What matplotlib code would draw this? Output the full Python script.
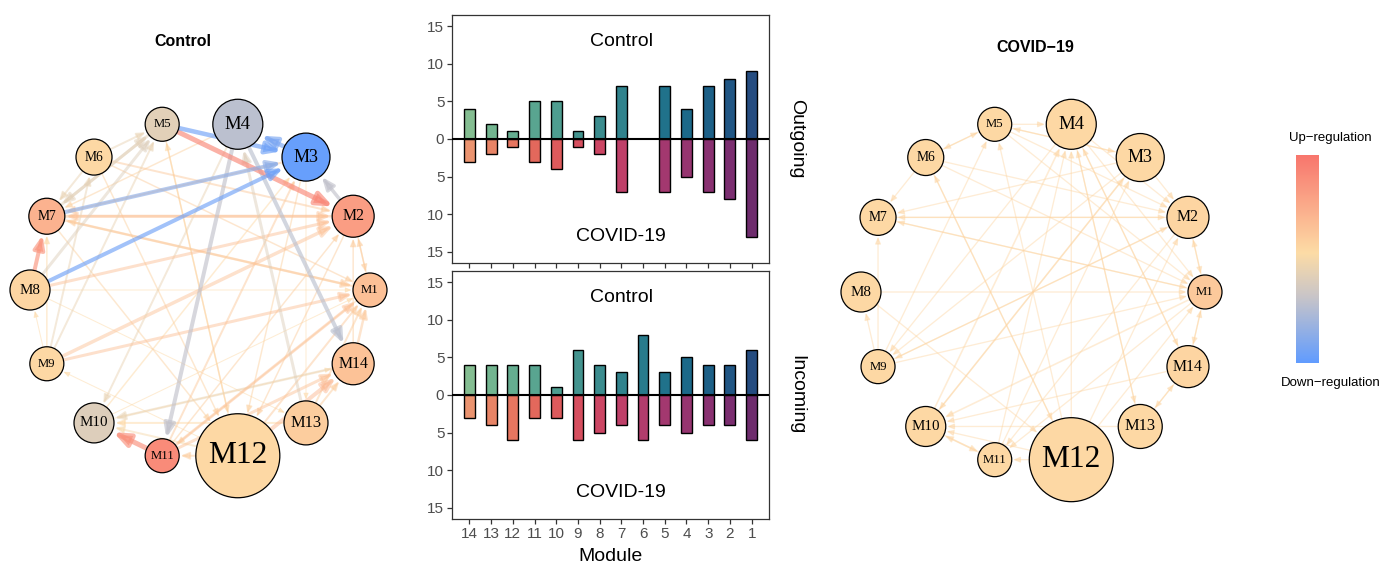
import numpy as np
import matplotlib
matplotlib.use("Agg")
import matplotlib.pyplot as plt
from matplotlib.patches import Circle, FancyArrowPatch, ArrowStyle
from matplotlib.colors import LinearSegmentedColormap

plt.rcParams['font.family'] = ['Liberation Sans', 'DejaVu Sans']

# ---------------- data ----------------
modules = [14, 13, 12, 11, 10, 9, 8, 7, 6, 5, 4, 3, 2, 1]
out_control = [4, 2, 1, 5, 5, 1, 3, 7, 0, 7, 4, 7, 8, 9]
out_covid = [3, 2, 1, 3, 4, 1, 2, 7, 0, 7, 5, 7, 8, 13]
in_control = [4, 4, 4, 4, 1, 6, 4, 3, 8, 3, 5, 4, 4, 6]
in_covid = [3, 4, 6, 3, 3, 6, 5, 4, 6, 4, 5, 4, 4, 6]
ytick_vals = [-15, -10, -5, 0, 5, 10, 15]

node_names = ['M1', 'M2', 'M3', 'M4', 'M5', 'M6', 'M7', 'M8', 'M9', 'M10',
              'M11', 'M12', 'M13', 'M14']
node_size = [17, 21, 24, 25, 17, 18, 18, 20, 17, 20, 17, 42, 22, 21]
# regulation score: 0 = down (blue), ~0.53 = neutral, 1 = up (red)
control_score = [0.66, 0.82, 0.02, 0.28, 0.42, 0.55, 0.72, 0.56, 0.55, 0.40,
                 0.90, 0.55, 0.60, 0.65]
covid_score = [0.62, 0.56, 0.55, 0.55, 0.55, 0.55, 0.55, 0.55, 0.55, 0.55,
               0.55, 0.55, 0.55, 0.56]

# (source, target, width, score)
control_edges = [
    (7, 5, 3, 0.42), (5, 7, 3, 0.42), (8, 5, 3, 0.40), (6, 5, 2, 0.45),
    (9, 5, 2, 0.45), (4, 10, 2, 0.45), (14, 10, 2.5, 0.45), (12, 10, 2, 0.50),
    (6, 7, 2, 0.45), (9, 6, 2, 0.45),
    (7, 2, 3, 0.65), (7, 1, 2.5, 0.62), (8, 2, 3, 0.66), (9, 2, 3.5, 0.65),
    (9, 1, 3, 0.66), (6, 2, 2, 0.62), (6, 1, 1.5, 0.60), (11, 1, 3, 0.66),
    (11, 14, 3, 0.65), (12, 1, 2, 0.62), (13, 1, 2, 0.60), (13, 14, 2, 0.60),
    (14, 1, 2.5, 0.62), (2, 1, 1.5, 0.60), (11, 2, 1.5, 0.60), (11, 3, 2, 0.62),
    (10, 3, 1.5, 0.55), (12, 5, 1.5, 0.55), (12, 9, 1, 0.55), (9, 8, 1, 0.55),
    (9, 7, 1.5, 0.55), (7, 12, 1.5, 0.58), (6, 12, 1.5, 0.58), (8, 13, 1, 0.55),
    (3, 7, 2, 0.62), (2, 7, 2.5, 0.64), (1, 7, 2, 0.60), (4, 7, 1.5, 0.58),
    (3, 12, 1.5, 0.58), (10, 1, 1, 0.55), (10, 14, 1, 0.55), (13, 10, 2, 0.55),
    (12, 11, 2, 0.60), (14, 2, 1.5, 0.60), (5, 12, 1.5, 0.58), (1, 11, 1.5, 0.58),
    (1, 2, 1.5, 0.60), (8, 1, 1, 0.55), (2, 12, 1.5, 0.60), (3, 13, 1, 0.55),
    (13, 4, 3, 0.40), (12, 14, 4, 0.70),
    (2, 3, 3.5, 0.30), (4, 11, 4, 0.30), (4, 14, 4, 0.28),
    (7, 3, 4, 0.14), (8, 3, 4, 0.05), (5, 3, 4.5, 0.05), (3, 4, 4.5, 0.08),
    (8, 7, 4, 0.85), (11, 10, 5, 0.88), (5, 2, 5, 0.92),
]

covid_edges = [
    (5, 3, 1.3, 0.56), (3, 5, 1.3, 0.56), (6, 5, 1.3, 0.56), (6, 7, 1.3, 0.56),
    (6, 2, 1.3, 0.56), (6, 1, 1.3, 0.56), (7, 2, 1.3, 0.56), (2, 7, 1.3, 0.56),
    (1, 7, 1.3, 0.56), (8, 1, 1.3, 0.56), (9, 8, 1.3, 0.56), (9, 7, 1.3, 0.56),
    (9, 5, 1.3, 0.56), (9, 2, 1.3, 0.56), (9, 1, 1.3, 0.56), (10, 4, 1.6, 0.56),
    (10, 3, 1.6, 0.56), (1, 10, 1.6, 0.56), (10, 11, 1.6, 0.56), (11, 10, 1.6, 0.56),
    (11, 4, 1.3, 0.56), (11, 3, 1.3, 0.56), (12, 5, 1.3, 0.56), (12, 4, 1.3, 0.56),
    (12, 6, 1.3, 0.56), (12, 1, 1.3, 0.56), (12, 2, 1.3, 0.56), (12, 11, 1.3, 0.56),
    (13, 4, 1.3, 0.56), (4, 13, 1.3, 0.56), (14, 4, 1.3, 0.56), (4, 14, 1.3, 0.56),
    (14, 13, 1.3, 0.56), (13, 14, 1.3, 0.56), (14, 1, 1.3, 0.56), (1, 14, 1.3, 0.56),
    (2, 1, 1.3, 0.56), (1, 2, 1.3, 0.56), (3, 2, 1.3, 0.56), (4, 1, 1.3, 0.56),
    (4, 2, 1.3, 0.56), (5, 1, 1.3, 0.56), (5, 2, 1.3, 0.56), (7, 1, 1.3, 0.56),
    (12, 10, 1.3, 0.56), (13, 10, 1.3, 0.56), (14, 10, 1.3, 0.56), (3, 9, 1.3, 0.56),
    (4, 9, 1.3, 0.56), (5, 6, 1.3, 0.56), (3, 7, 1.3, 0.56), (1, 11, 1.3, 0.56),
    (2, 11, 1.3, 0.56), (6, 12, 1.3, 0.56), (8, 12, 1.3, 0.56), (3, 10, 1.3, 0.56),
    (2, 9, 1.3, 0.56), (5, 4, 1.3, 0.56),
]

reg_cmap = LinearSegmentedColormap.from_list(
    'reg', [(0.0, '#619CFF'), (0.32, '#C9C5C8'), (0.53, '#FDDCA6'), (1.0, '#F8766D')])

try:
    import seaborn as sns
    crest = sns.color_palette("crest", as_cmap=True)
    flare = sns.color_palette("flare", as_cmap=True)
    pos_colors = [crest(t) for t in np.linspace(0.12, 0.85, len(modules))]
    neg_colors = [flare(t) for t in np.linspace(0.12, 0.85, len(modules))]
except Exception:
    c1 = LinearSegmentedColormap.from_list('p', ['#82c093', '#2f8089', '#26457e'])
    c2 = LinearSegmentedColormap.from_list('n', ['#ee8c6a', '#d44c62', '#672867'])
    pos_colors = [c1(t) for t in np.linspace(0, 1, len(modules))]
    neg_colors = [c2(t) for t in np.linspace(0, 1, len(modules))]

W, H = 1383, 567
fig = plt.figure(figsize=(W / 100, H / 100), dpi=100)

PT = 0.72  # points per pixel


def draw_network(ax_rect, cx, cy, R, scores, edges, alpha):
    ax = fig.add_axes(ax_rect)
    ax.set_xlim(-cx, ax_rect[2] * W - cx)
    ax.set_ylim(-(H - cy), cy)
    ax.axis('off')
    n = len(node_names)
    ang = np.deg2rad(np.arange(n) * 360.0 / n)
    xy = np.c_[R * np.cos(ang), R * np.sin(ang)]
    for s, d, w, sc in sorted(edges, key=lambda e: abs(e[3] - 0.55)):
        hl = (3 + 2.0 * w) * PT
        hw = (1.3 + 0.8 * w) * PT
        a = alpha if abs(sc - 0.55) > 0.2 else alpha * 0.75
        arr = FancyArrowPatch(xy[s - 1], xy[d - 1],
                              arrowstyle=ArrowStyle('-|>', head_length=hl, head_width=hw),
                              mutation_scale=1,
                              shrinkA=node_size[s - 1] * PT,
                              shrinkB=node_size[d - 1] * PT + 1,
                              lw=w * PT, color=reg_cmap(sc), alpha=a,
                              zorder=1)
        ax.add_patch(arr)
    for i in range(n):
        ax.add_patch(Circle(xy[i], node_size[i], facecolor=reg_cmap(scores[i]),
                            edgecolor='black', lw=0.9, zorder=3))
        ax.text(xy[i, 0], xy[i, 1], node_names[i], ha='center', va='center',
                family='Liberation Serif', fontsize=node_size[i] * 0.54, zorder=4)
    return ax


draw_network([0, 0, 400 / W, 1], 200, 290, 170, control_score, control_edges, 0.65)
draw_network([833 / W, 0, 400 / W, 1], 200, 292, 172, covid_score, covid_edges, 0.6)

fig.text(183 / W, 1 - 42 / H, 'Control', ha='center', va='center',
         fontsize=11.5, fontweight='bold')
fig.text(1035 / W, 1 - 47 / H, 'COVID\u221219', ha='center', va='center',
         fontsize=11.5, fontweight='bold')

# ---------------- bar panels ----------------
xpos = np.arange(1, len(modules) + 1)


def bar_panel(rect, up, down, side_label, show_x):
    ax = fig.add_axes(rect)
    for i in range(len(modules)):
        if up[i] > 0:
            ax.bar(xpos[i], up[i], width=0.5, color=pos_colors[i], edgecolor='black',
                   lw=1.0, zorder=2)
        if down[i] > 0:
            ax.bar(xpos[i], -down[i], width=0.5, color=neg_colors[i], edgecolor='black',
                   lw=1.0, zorder=2)
    ax.axhline(0, color='black', lw=1.5, zorder=3)
    ax.set_xlim(0.2, 14.8)
    ax.set_ylim(-16.5, 16.5)
    ax.set_yticks(ytick_vals)
    ax.set_yticklabels([str(abs(v)) for v in ytick_vals])
    ax.set_xticks(xpos)
    if show_x:
        ax.set_xticklabels([str(m) for m in modules])
        ax.set_xlabel('Module', fontsize=14, labelpad=5)
    else:
        ax.set_xticklabels([])
    ax.tick_params(axis='both', length=3.5, width=0.9, color='#333333',
                   labelcolor='#4D4D4D', labelsize=11, pad=2)
    for sp in ax.spines.values():
        sp.set_color('#333333')
        sp.set_linewidth(0.9)
    ax.text(8.0, 13, 'Control', ha='center', va='center', fontsize=14)
    ax.text(8.0, -13, 'COVID-19', ha='center', va='center', fontsize=14)
    yc = rect[1] + rect[3] / 2
    fig.text(797 / W, yc, side_label, rotation=270, ha='center', va='center', fontsize=14)
    return ax


bar_panel([452 / W, 1 - 263 / H, 317 / W, 248 / H], out_control, out_covid, 'Outgoing', False)
bar_panel([452 / W, 1 - 519 / H, 317 / W, 248 / H], in_control, in_covid, 'Incoming', True)

# ---------------- colour legend ----------------
cax = fig.add_axes([1296 / W, 1 - 363 / H, 23 / W, 208 / H])
cax.imshow(np.linspace(0, 1, 256)[:, None], aspect='auto', cmap=reg_cmap, origin='lower')
cax.axis('off')
fig.text(1330 / W, 1 - 138 / H, 'Up\u2212regulation', ha='center', va='center', fontsize=9.5)
fig.text(1331 / W, 1 - 383 / H, 'Down\u2212regulation', ha='center', va='center', fontsize=9.5)

fig.savefig('out.png', dpi=100)
